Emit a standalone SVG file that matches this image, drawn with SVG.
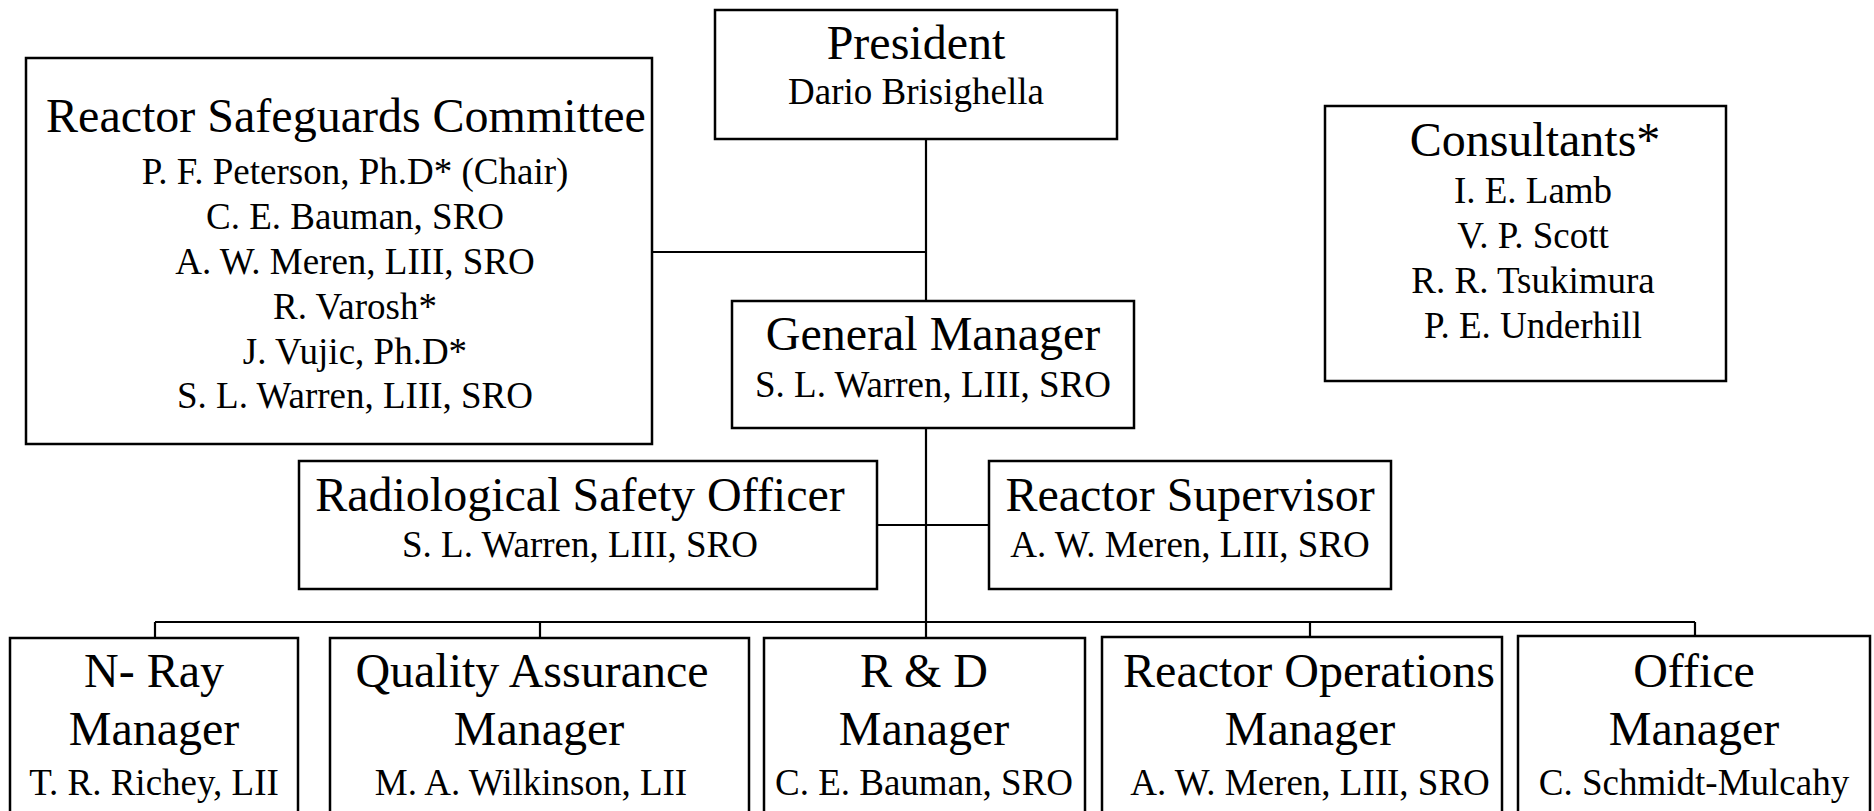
<svg xmlns="http://www.w3.org/2000/svg" width="1874" height="811" viewBox="0 0 1874 811">
<style>
.box{fill:#fff;stroke:#000;stroke-width:2.5}
.ln{stroke:#000;stroke-width:2.2;fill:none}
text{font-family:"Liberation Serif","Times New Roman",serif;fill:#000;text-anchor:middle}
.t{font-size:48px}
.s{font-size:37px}
</style>
<rect width="1874" height="811" fill="#fff"/>
<g id="connectors">
<path class="ln" d="M926 140V638"/>
<path class="ln" d="M652 252H926"/>
<path class="ln" d="M877 525H989"/>
<path class="ln" d="M155 622H1695"/>
<path class="ln" d="M155 622V638M540 622V638M1310 622V637M1695 622V636"/>
</g>
<g id="president">
<rect class="box" x="715" y="10" width="402" height="129"/>
<text class="t" x="916" y="59">President</text>
<text class="s" x="916" y="104">Dario Brisighella</text>
</g>
<g id="committee">
<rect class="box" x="26" y="58" width="626" height="386"/>
<text class="t" x="346" y="132">Reactor Safeguards Committee</text>
<text class="s" x="355" y="184">P. F. Peterson, Ph.D* (Chair)</text>
<text class="s" x="355" y="229">C. E. Bauman, SRO</text>
<text class="s" x="355" y="274">A. W. Meren, LIII, SRO</text>
<text class="s" x="355" y="319">R. Varosh*</text>
<text class="s" x="355" y="364">J. Vujic, Ph.D*</text>
<text class="s" x="355" y="408">S. L. Warren, LIII, SRO</text>
</g>
<g id="consultants">
<rect class="box" x="1325" y="106" width="401" height="275"/>
<text class="t" x="1535" y="156">Consultants*</text>
<text class="s" x="1533" y="203">I. E. Lamb</text>
<text class="s" x="1533" y="248">V. P. Scott</text>
<text class="s" x="1533" y="293">R. R. Tsukimura</text>
<text class="s" x="1533" y="338">P. E. Underhill</text>
</g>
<g id="general-manager">
<rect class="box" x="732" y="301" width="402" height="127"/>
<text class="t" x="933" y="350">General Manager</text>
<text class="s" x="933" y="397">S. L. Warren, LIII, SRO</text>
</g>
<g id="rso">
<rect class="box" x="299" y="461" width="578" height="128"/>
<text class="t" x="580" y="511">Radiological Safety Officer</text>
<text class="s" x="580" y="557">S. L. Warren, LIII, SRO</text>
</g>
<g id="reactor-supervisor">
<rect class="box" x="989" y="461" width="402" height="128"/>
<text class="t" x="1190" y="511">Reactor Supervisor</text>
<text class="s" x="1190" y="557">A. W. Meren, LIII, SRO</text>
</g>
<g id="nray">
<rect class="box" x="10" y="638" width="288" height="200"/>
<text class="t" x="154" y="687">N- Ray</text>
<text class="t" x="154" y="745">Manager</text>
<text class="s" x="154" y="795">T. R. Richey, LII</text>
</g>
<g id="qa">
<rect class="box" x="330" y="638" width="419" height="200"/>
<text class="t" x="532" y="687">Quality Assurance</text>
<text class="t" x="539" y="745">Manager</text>
<text class="s" x="531" y="795">M. A. Wilkinson, LII</text>
</g>
<g id="rd">
<rect class="box" x="764" y="638" width="321" height="200"/>
<text class="t" x="924" y="687">R &amp; D</text>
<text class="t" x="924" y="745">Manager</text>
<text class="s" x="924" y="795">C. E. Bauman, SRO</text>
</g>
<g id="reactor-ops">
<rect class="box" x="1102" y="637" width="400" height="200"/>
<text class="t" x="1309" y="687">Reactor Operations</text>
<text class="t" x="1310" y="745">Manager</text>
<text class="s" x="1310" y="795">A. W. Meren, LIII, SRO</text>
</g>
<g id="office">
<rect class="box" x="1518" y="636" width="352" height="200"/>
<text class="t" x="1694" y="687">Office</text>
<text class="t" x="1694" y="745">Manager</text>
<text class="s" x="1694" y="795">C. Schmidt-Mulcahy</text>
</g>
</svg>
